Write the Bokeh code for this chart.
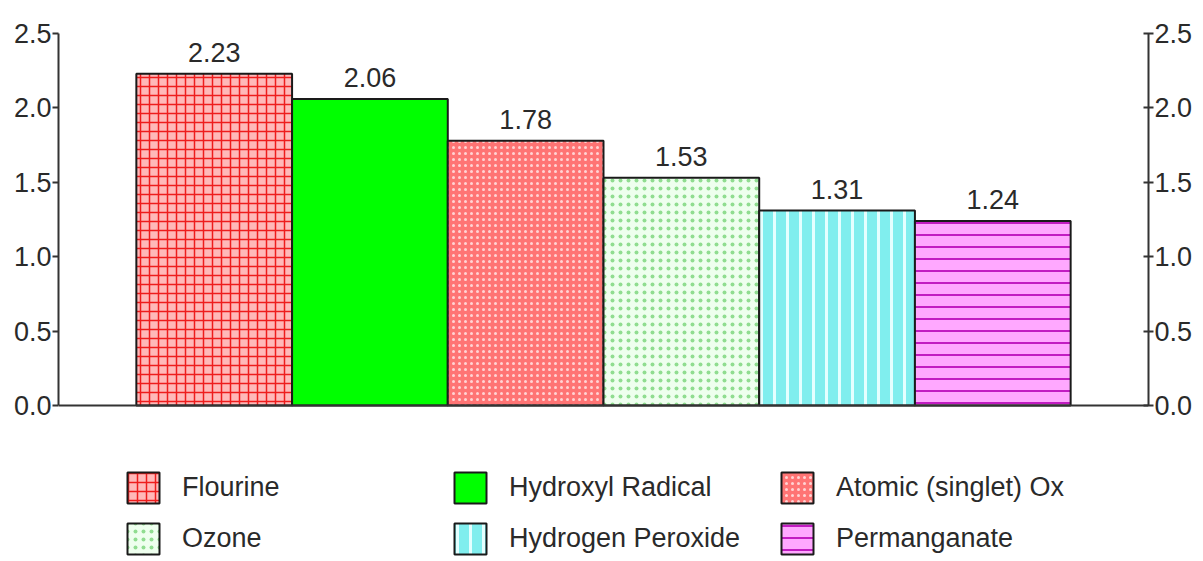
from bokeh.plotting import figure
from bokeh.models import (ColumnDataSource, LinearAxis, Legend, LegendItem,
                          FixedTicker, Range1d, PrintfTickFormatter, Span)
from bokeh.core.properties import value
from bokeh.embed import file_html
from bokeh.resources import INLINE

# Oxidation potentials (V) of common oxidants
oxidants = ["Flourine", "Hydroxyl Radical", "Atomic (singlet) Ox",
            "Ozone", "Hydrogen Peroxide", "Permanganate"]
potentials = [2.23, 2.06, 1.78, 1.53, 1.31, 1.24]
y_ticks = [0.0, 0.5, 1.0, 1.5, 2.0, 2.5]

# per-bar styling
fill_colors = ["#ffb8b8", "#00ff00", "#ff7474", "#eeffee", "#80eeee", "#ffa8ff"]
hatch_patterns = ["cross", "blank", "dot", "dot", "vertical_line", "horizontal_line"]
hatch_colors = ["#ee1c1c", "#00ff00", "#ffd4d4", "#90dd90", "#e4ffff", "#c21cc2"]
hatch_scales = [9, 8, 6, 8, 13, 12]
hatch_weights = [1.5, 1, 2, 1.6, 3, 2]

FONT = "Liberation Sans"
INK = "#2a2a2a"
AXIS = "#333333"

src = ColumnDataSource(dict(
    x=list(range(len(oxidants))),
    top=potentials,
    name=oxidants,
    label=[f"{v:.2f}" for v in potentials],
    fill=fill_colors,
    hatch=hatch_patterns,
    hcolor=hatch_colors,
    hscale=hatch_scales,
    hweight=hatch_weights,
))

# the frame runs below zero so the legend can sit under the bars
p = figure(width=1203, height=561,
           x_range=Range1d(-1, 6), y_range=Range1d(-1.048, 2.5),
           output_backend="svg", toolbar_location=None,
           min_border_left=58, min_border_right=55,
           min_border_top=33, min_border_bottom=0)
p.background_fill_color = "white"
p.border_fill_color = "white"
p.outline_line_color = None
p.xgrid.visible = False
p.ygrid.visible = False
p.xaxis.visible = False

bars = p.vbar(x="x", top="top", bottom=0, width=1.0, source=src,
              fill_color="fill", hatch_pattern="hatch", hatch_color="hcolor",
              hatch_scale="hscale", hatch_weight="hweight",
              line_color="#1a1a1a", line_width=2)

p.text(x="x", y="top", text="label", source=src,
       text_align="center", text_baseline="bottom", y_offset=-12,
       text_font=value(FONT), text_font_size="27px", text_color=INK)

# zero baseline across the whole frame
p.add_layout(Span(location=0, dimension="width",
                  line_color=AXIS, line_width=2))

def style_y(ax, tick_in, tick_out):
    ax.ticker = FixedTicker(ticks=y_ticks)
    ax.formatter = PrintfTickFormatter(format="%.1f")
    ax.bounds = (0, 2.5)
    ax.minor_tick_line_color = None
    ax.major_tick_in = tick_in
    ax.major_tick_out = tick_out
    ax.major_label_standoff = 1
    ax.axis_line_width = 2
    ax.axis_line_color = AXIS
    ax.major_tick_line_width = 2
    ax.major_tick_line_color = AXIS
    ax.major_label_text_font = FONT
    ax.major_label_text_font_size = "27px"
    ax.major_label_text_color = INK

style_y(p.yaxis[0], 0, 6)

# right axis mirrors the left one
yr = LinearAxis()
style_y(yr, 5, 5)
p.add_layout(yr, "right")

# legend fills column by column: two rows, three columns
legend_order = [0, 3, 1, 4, 2, 5]
items = [LegendItem(label=oxidants[i], renderers=[bars], index=i)
         for i in legend_order]
legend = Legend(items=items, ncols=3, location=(65, 3),
                glyph_width=40, glyph_height=39, label_height=39,
                label_width=256, label_standoff=19, spacing=12,
                padding=0, margin=0,
                border_line_color=None, background_fill_alpha=0,
                label_text_font=FONT, label_text_font_size="27px",
                label_text_color=INK)
p.add_layout(legend, "center")

open("out.html", "w").write(file_html(p, INLINE))
